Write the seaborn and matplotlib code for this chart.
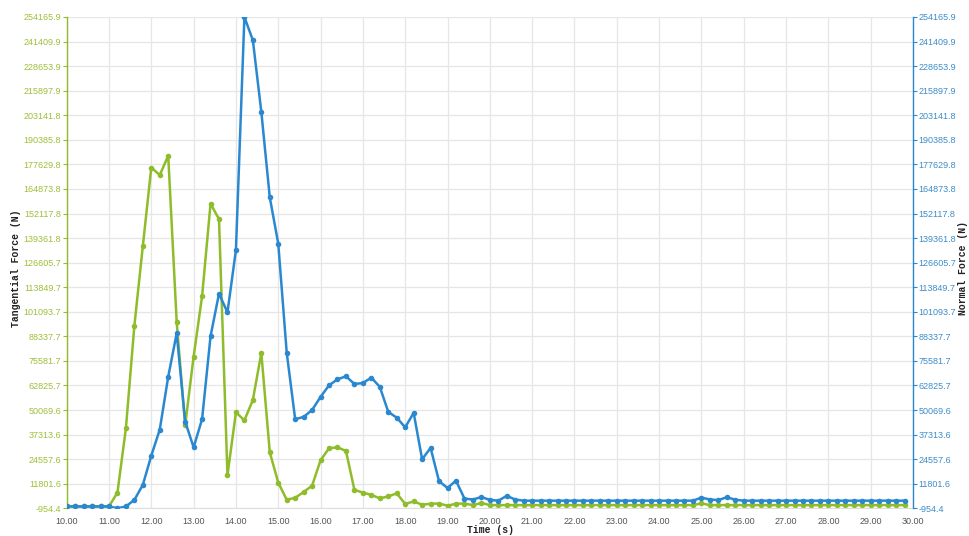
import numpy as np
import pandas as pd
import matplotlib
matplotlib.use("Agg")
import matplotlib.pyplot as plt
import seaborn as sns

# Sample times (s), one sample every 0.2 s
time_s = [round(10.0 + 0.2 * i, 1) for i in range(100)]

# Tangential force (N)
tangential = [
    0, 0, 0, 0, 0, 0, 7200, 40600, 93900, 135200,
    176000, 172100, 182100, 95800, 42100, 77800, 109100, 157200, 149200, 16200,
    48900, 44700, 55300, 79700, 28100, 12400, 3500, 4500, 7500, 10800,
    24000, 30200, 30700, 28800, 8600, 7200, 6000, 4200, 5200, 6800,
    1300, 2600, 900, 1400, 1500, 400, 1400, 1500, 700, 1800,
    700, 700, 700, 700, 700, 700, 700, 700, 700, 700,
    700, 700, 700, 700, 700, 700, 700, 700, 700, 700,
    700, 700, 700, 700, 700, 1600, 700, 700, 700, 700,
    700, 700, 700, 700, 700, 700, 700, 700, 700, 700,
    700, 700, 700, 700, 700, 700, 700, 700, 700, 700,
]

# Normal force (N)
normal = [
    0, 0, 0, 0, 0, 0, -954.4, 0, 3400, 11200,
    26400, 39900, 67400, 89900, 44100, 30700, 45300, 88400, 110500, 100800,
    133200, 254165.9, 242100, 204900, 160500, 136500, 79900, 45300, 46500, 50100,
    56900, 62900, 66000, 67600, 63600, 64100, 66900, 62100, 49100, 46100,
    41100, 48600, 24500, 30400, 13100, 9600, 13400, 4100, 3600, 4900,
    3400, 3000, 5500, 3600, 3000, 3000, 3000, 3000, 3000, 3000,
    3000, 3000, 3000, 3000, 3000, 3000, 3000, 3000, 3000, 3000,
    3000, 3000, 3000, 3000, 3000, 4600, 3600, 3300, 4800, 3500,
    3000, 3000, 3000, 3000, 3000, 3000, 3000, 3000, 3000, 3000,
    3000, 3000, 3000, 3000, 3000, 3000, 3000, 3000, 3000, 3000,
]

x_tick_labels = [f"{v:.2f}" for v in range(10, 31)]
y_tick_labels = [
    "-954.4", "11801.6", "24557.6", "37313.6", "50069.6", "62825.7",
    "75581.7", "88337.7", "101093.7", "113849.7", "126605.7", "139361.8",
    "152117.8", "164873.8", "177629.8", "190385.8", "203141.8", "215897.9",
    "228653.9", "241409.9", "254165.9",
]

GREEN = "#8fbc2b"
GREEN_TXT = "#9dbf3a"
BLUE = "#2a88d0"
BLUE_TXT = "#3d8cc8"

sns.set_style("whitegrid", {"grid.color": "#e6e6e6", "axes.edgecolor": "#dddddd"})
plt.rcParams["font.family"] = ["Liberation Sans", "DejaVu Sans"]

df = pd.DataFrame({"time": time_s, "tangential": tangential, "normal": normal})

fig = plt.figure(figsize=(9.69, 5.36), dpi=100)
ax = fig.add_axes([0.0688, 0.0517, 0.8734, 0.9166])
ax2 = ax.twinx()

yt = [float(s) for s in y_tick_labels]
ymin, ymax = yt[0], yt[-1]

sns.lineplot(data=df, x="time", y="tangential", ax=ax, color=GREEN, lw=1.8,
             marker="o", markersize=4, markeredgewidth=0)
sns.lineplot(data=df, x="time", y="normal", ax=ax2, color=BLUE, lw=1.8,
             marker="o", markersize=4, markeredgewidth=0)

for a in (ax, ax2):
    a.set_xlim(10, 30)
    a.set_ylim(ymin, ymax)
    a.set_yticks(yt)
    a.set_xlabel("")
    a.set_ylabel("")

ax.set_xticks(range(10, 31))
ax.set_xticklabels(x_tick_labels, fontsize=6.5, color="#555555")
ax.set_yticklabels(y_tick_labels, fontsize=6.5, color=GREEN_TXT)
ax2.set_yticklabels(y_tick_labels, fontsize=6.5, color=BLUE_TXT)
ax2.grid(False)
ax.grid(True, color="#e6e6e6", lw=0.9)

ax.tick_params(axis="y", left=True, length=3, width=0.8, color=GREEN, pad=1)
ax.tick_params(axis="x", bottom=False, pad=3)
ax2.tick_params(axis="y", right=True, length=3, width=0.8, color=BLUE, pad=1)

for a in (ax, ax2):
    for s in a.spines.values():
        s.set_visible(False)
ax.spines["left"].set_visible(True)
ax.spines["left"].set_color(GREEN)
ax.spines["left"].set_linewidth(1.0)
ax2.spines["right"].set_visible(True)
ax2.spines["right"].set_color(BLUE)
ax2.spines["right"].set_linewidth(1.0)
ax.spines["bottom"].set_visible(True)
ax.spines["bottom"].set_color("#dddddd")

title_font = dict(family=["Liberation Mono", "DejaVu Sans Mono"], fontsize=7,
                  fontweight="bold", color="#222222")
fig.text(0.016, 0.5, "Tangential Force (N)", rotation=90, ha="center",
         va="center", **title_font)
fig.text(0.994, 0.5, "Normal Force (N)", rotation=90, ha="center",
         va="center", **title_font)
fig.text(0.506, 0.012, "Time (s)", ha="center", va="center", **title_font)

fig.savefig("out.png", dpi=100, facecolor="white")
